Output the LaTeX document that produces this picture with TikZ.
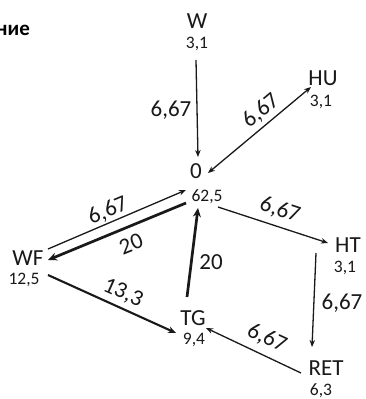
\documentclass[tikz,border=0pt]{standalone}
\usepackage{fontspec}
\setmainfont{Carlito}
\usetikzlibrary{arrows.meta,calc}

\tikzset{
  statename/.style={font=\fontsize{23}{23}\selectfont, inner sep=0pt, text=black!90},
  stateshare/.style={font=\fontsize{17.5}{17.5}\selectfont, inner sep=0pt, text=black!90},
  rate/.style={font=\fontsize{23}{23}\selectfont, inner sep=0pt, text=black!90},
  thinarrow/.style={line width=1.3pt, draw=black!90, -{Stealth[length=7pt,width=5.5pt]}},
  thickarrow/.style={line width=2.7pt, draw=black!90, -{Stealth[length=9pt,width=8pt]}},
  midarrow/.style={line width=2.1pt, draw=black!90, -{Stealth[length=8pt,width=6.5pt]}},
  twoway/.style={line width=1.3pt, draw=black!90, {Stealth[length=7pt,width=5.5pt]}-{Stealth[length=7pt,width=5.5pt]}},
}

\begin{document}
\begin{tikzpicture}[x=1pt,y=-1pt]
  \useasboundingbox[fill=white] (0,0) rectangle (366,399);

  % heading fragment
  \node[anchor=base west, inner sep=0pt, font=\fontsize{21}{21}\selectfont\bfseries] (head) at (-4,35) {ние};

  % states with their shares
  \node[statename]  (W)     at (197,21)  {W};
  \node[stateshare] (W-v)   at (197,44)  {3,1};
  \node[statename]  (HU)    at (323,78)  {HU};
  \node[stateshare] (HU-v)  at (321,102) {3,1};
  \node[statename]  (O)     at (196,171) {0};
  \node[stateshare] (O-v)   at (207,197) {62,5};
  \node[statename]  (WF)    at (28,258)  {WF};
  \node[stateshare] (WF-v)  at (24,280)  {12,5};
  \node[statename]  (HT)    at (348,245) {HT};
  \node[stateshare] (HT-v)  at (345,268) {3,1};
  \node[statename]  (TG)    at (193,318) {TG};
  \node[stateshare] (TG-v)  at (194,340) {9,4};
  \node[statename]  (RET)   at (326,368) {RET};
  \node[stateshare] (RET-v) at (321,391) {6,3};

  % transitions
  \draw[thinarrow]  ([shift={(-1,16)}]W-v.center)   -- ([shift={(2,-14)}]O.center);
  \draw[twoway]     ([shift={(12,2)}]O.center)      -- ([shift={(-10,-15)}]HU-v.center);
  \draw[thinarrow]  ([shift={(11,10)}]O-v.center)   -- ([shift={(-20,-2)}]HT.center);
  \draw[thinarrow]  ([shift={(-29,-15)}]HT-v.center) -- ([shift={(-14,-21)}]RET.center);
  \draw[thinarrow]  ([shift={(-25,5)}]RET.center)   -- ([shift={(13,10)}]TG.center);
  \draw[thickarrow] ([shift={(-6,-21)}]TG.center)   -- ([shift={(-9,11)}]O-v.center);
  \draw[thinarrow]  ([shift={(20,-9)}]WF.center)    -- ([shift={(-21,-7)}]O-v.center);
  \draw[thickarrow] ([shift={(-21,6)}]O-v.center)   -- ([shift={(20,2)}]WF.center);
  \draw[midarrow]   ([shift={(24,-5)}]WF-v.center)  -- ([shift={(-17,15)}]TG.center);

  % transition rates
  \node[rate] (r-w)    at (171,110) {6,67};
  \node[rate, rotate=40]  (r-hu)  at (261,111) {6,67};
  \node[rate, rotate=-18] (r-ht)  at (280,210) {6,67};
  \node[rate] (r-ret)  at (342,303) {6,67};
  \node[rate, rotate=-25] (r-tg)  at (267,338) {6,67};
  \node[rate] (r-o)    at (211,262) {20};
  \node[rate, rotate=23]  (r-wf1) at (108,211) {6,67};
  \node[rate, rotate=22]  (r-wf2) at (131,244) {20};
  \node[rate, rotate=-24] (r-tg2) at (123,293) {13,3};
\end{tikzpicture}
\end{document}
